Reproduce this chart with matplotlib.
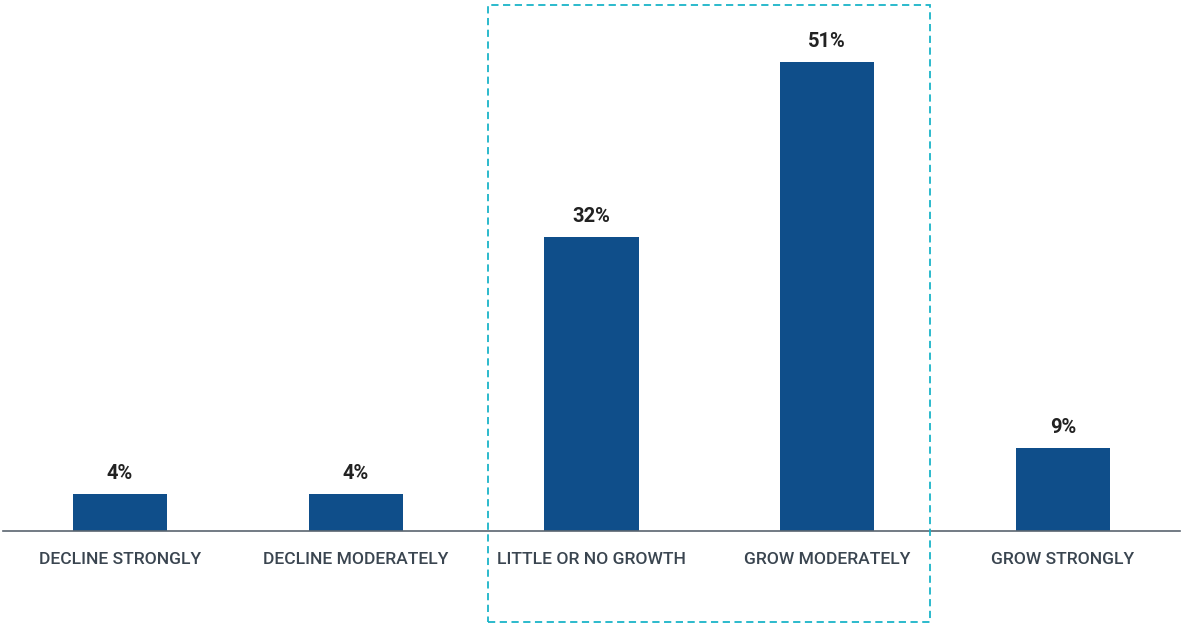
import matplotlib.pyplot as plt
from matplotlib.patches import Rectangle

categories = ["DECLINE STRONGLY", "DECLINE MODERATELY", "LITTLE OR NO GROWTH",
              "GROW MODERATELY", "GROW STRONGLY"]
values = [4, 4, 32, 51, 9]
value_labels = ["4%", "4%", "32%", "51%", "9%"]

plt.rcParams['font.family'] = ['Roboto', 'DejaVu Sans']

fig = plt.figure(figsize=(11.82, 6.23), dpi=100)
ax = fig.add_axes([3 / 1182, 92 / 623, 1177 / 1182, 531 / 623])

x = range(len(categories))
ax.bar(x, values, width=0.4, color="#0f4e8a", zorder=2)

for xi, v, lab in zip(x, values, value_labels):
    ax.annotate(lab, (xi, v), xytext=(0, 8), textcoords="offset points",
                ha="center", va="bottom", fontsize=14.5, fontweight="bold",
                color="#222222")

ax.set_xlim(-0.496, 4.496)
ax.set_ylim(0, 57.74)
ax.set_xticks(list(x))
ax.set_xticklabels(categories, fontsize=12.6, fontweight="medium", color="#3a4550")
ax.tick_params(axis="x", length=0, pad=15)
ax.set_yticks([])

for side in ["top", "left", "right"]:
    ax.spines[side].set_visible(False)
ax.spines["bottom"].set_color("#5a6570")
ax.spines["bottom"].set_linewidth(1.2)

# dashed highlight box around the middle two categories
box = Rectangle((1.559, -9.9), 1.877, 67.1, fill=False, edgecolor="#1ab4c8",
                linestyle=(0, (4, 2.5)), linewidth=1.3, clip_on=False, zorder=3)
ax.add_patch(box)

fig.savefig("out.png", dpi=100)
